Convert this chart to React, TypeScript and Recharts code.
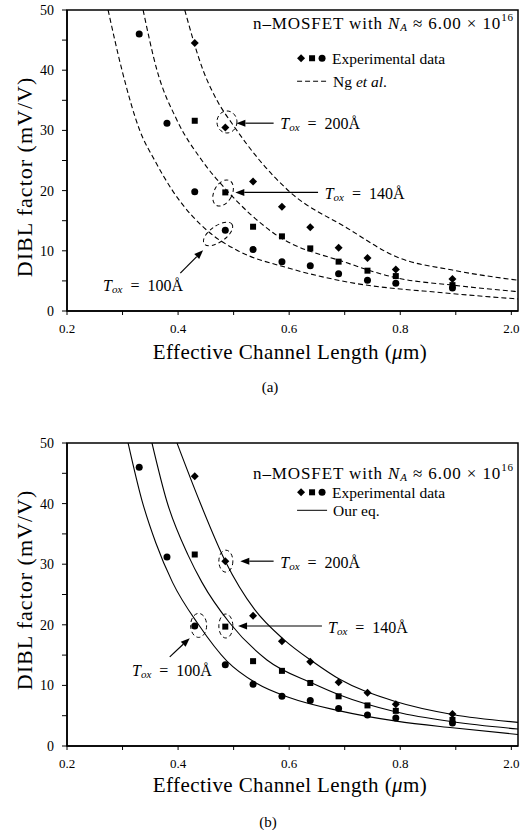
import { ComposedChart, Line, Scatter, XAxis, YAxis, ReferenceArea, ReferenceDot, ReferenceLine } from "recharts";

const FONT = "'Liberation Serif', 'Times New Roman', serif";

// measured points (same experiment in both panels)
const lengths = [0.33, 0.38, 0.43, 0.485, 0.535, 0.587, 0.638, 0.689, 0.741, 0.792, 0.894];
const dibl100 = [46, 31.2, 19.8, 13.4, 10.2, 8.2, 7.5, 6.2, 5.1, 4.6, 3.8];
const dibl140 = [null, null, 31.6, 19.7, 14, 12.4, 10.4, 8.2, 6.7, 5.8, 4.3];
const dibl200 = [null, null, 44.5, 30.5, 21.5, 17.3, 13.9, 10.5, 8.8, 6.9, 5.3];

// Ng et al. model curves (panel a)
const ngX100 = [0.274, 0.299, 0.331, 0.358, 0.39, 0.457, 0.506, 0.6, 0.7, 0.88, 1.012];
const ngY100 = [50, 40, 30, 25, 20, 13, 10.1, 7.1, 4.9, 3.0, 2.0];
const ngX140 = [0.337, 0.362, 0.398, 0.443, 0.488, 0.571, 0.704, 0.793, 0.894, 1.012];
const ngY140 = [50, 40, 31.7, 25, 20, 13, 8.0, 5.5, 4.3, 3.2];
const ngX200 = [0.412, 0.445, 0.47, 0.499, 0.547, 0.601, 0.704, 0.793, 0.894, 1.012];
const ngY200 = [50, 40, 35, 30.9, 25, 19.8, 13.8, 9.0, 6.8, 5.1];

// "Our eq." curves (panel b)
const eqX100 = [0.31, 0.335, 0.36, 0.39, 0.437, 0.488, 0.542, 0.6, 0.691, 0.793, 0.894, 1.012];
const eqY100 = [50, 40.5, 33.5, 27.0, 20.0, 14.0, 10.3, 8.0, 5.8, 4.1, 3.0, 1.9];
const eqX140 = [0.353, 0.38, 0.418, 0.443, 0.493, 0.56, 0.643, 0.691, 0.793, 0.894, 1.012];
const eqY140 = [50, 40.3, 31.5, 27.0, 20.3, 14.2, 10.3, 8.4, 5.6, 4.0, 2.8];
const eqX200 = [0.398, 0.439, 0.485, 0.538, 0.59, 0.643, 0.691, 0.793, 0.894, 1.012];
const eqY200 = [50, 40.3, 30.5, 22.5, 17.6, 13.9, 11.0, 7.3, 5.2, 3.9];

const xTicks = [0.2, 0.3, 0.4, 0.5, 0.6, 0.7, 0.8, 0.9, 1.0];
const xTickLabels = ["0.2", "", "0.4", "", "0.6", "", "0.8", "", "2.0"];
const yTicks = [0, 5, 10, 15, 20, 25, 30, 35, 40, 45, 50];
const yTickLabels = ["0", "", "10", "", "20", "", "30", "", "40", "", "50"];

const toPoints = (xs: number[], ys: (number | null)[]) =>
  xs.map((x, i) => ({ x, y: ys[i] })).filter((p) => p.y != null);

const Circle = (p: any) => <circle cx={p.cx} cy={p.cy} r={3.5} fill="#000" />;
const Square = (p: any) => <rect x={p.cx - 3} y={p.cy - 3} width={6} height={6} fill="#000" />;
const Diamond = (p: any) => (
  <polygon
    points={`${p.cx},${p.cy - 4} ${p.cx + 4},${p.cy} ${p.cx},${p.cy + 4} ${p.cx - 4},${p.cy}`}
    fill="#000"
  />
);

const toxLabel = (value: string) => (p: any) => (
  <text x={p.cx} y={p.cy} dominantBaseline="central" fontFamily={FONT} fontSize={16} fill="#000">
    <tspan fontStyle="italic">T</tspan>
    <tspan fontStyle="italic" fontSize={11} dy={4}>ox</tspan>
    <tspan dy={-4}>{"\u00a0\u00a0=\u00a0\u00a0" + value + "Å"}</tspan>
  </text>
);

const ellipse = (rx: number, ry: number, rot: number) => (p: any) => (
  <ellipse
    cx={p.cx}
    cy={p.cy}
    rx={rx}
    ry={ry}
    transform={`rotate(${rot} ${p.cx} ${p.cy})`}
    fill="none"
    stroke="#000"
    strokeWidth={1}
    strokeDasharray="4 3"
  />
);

const Arrow = (p: any) => {
  const { x1, y1, x2, y2 } = p;
  const a = Math.atan2(y2 - y1, x2 - x1);
  const len = 9;
  const w = 3.5;
  const bx = x2 - len * Math.cos(a);
  const by = y2 - len * Math.sin(a);
  const px = -Math.sin(a) * w;
  const py = Math.cos(a) * w;
  return (
    <g>
      <line x1={x1} y1={y1} x2={bx} y2={by} stroke="#000" strokeWidth={1.2} />
      <polygon points={`${x2},${y2} ${bx + px},${by + py} ${bx - px},${by - py}`} fill="#000" />
    </g>
  );
};

const legendShape = (gap1: number, gap2: number, dashed: boolean, lineText: any) => (p: any) => {
  const x = p.cx;
  const y = p.cy;
  return (
    <g fontFamily={FONT} fill="#000">
      <text x={x} y={y} dominantBaseline="central" fontSize={17} textLength={260} lengthAdjust="spacing">
        n–MOSFET with <tspan fontStyle="italic">N</tspan>
        <tspan fontStyle="italic" fontSize={11} dy={4}>A</tspan>
        <tspan dy={-4}> ≈ 6.00 × 10</tspan>
        <tspan fontSize={11} dy={-6}>16</tspan>
      </text>
      <Diamond cx={x + 48} cy={y + gap1} />
      <Square cx={x + 59} cy={y + gap1} />
      <Circle cx={x + 69} cy={y + gap1} />
      <text x={x + 79} y={y + gap1} dominantBaseline="central" fontSize={15.5}>
        Experimental data
      </text>
      <line
        x1={x + 44}
        y1={y + gap2}
        x2={x + 74}
        y2={y + gap2}
        stroke="#000"
        strokeWidth={1}
        strokeDasharray={dashed ? "5 3" : undefined}
      />
      <text x={x + 80} y={y + gap2} dominantBaseline="central" fontSize={15.5}>
        {lineText}
      </text>
    </g>
  );
};

const tickStyle = { fontSize: 13, fill: "#000", fontFamily: FONT };

function Panel(props: any) {
  const { curves, dashed, height, marginTop, marginBottom, legend, notes } = props;
  return (
    <ComposedChart
      width={531}
      height={height}
      margin={{ top: marginTop, right: 13, bottom: marginBottom, left: 22 }}
    >
      <XAxis
        type="number"
        dataKey="x"
        domain={[0.2, 1.012]}
        ticks={xTicks}
        interval={0}
        allowDataOverflow
        tickFormatter={(v: number) => xTickLabels[xTicks.indexOf(v)] ?? ""}
        tick={tickStyle}
        tickSize={4}
        tickMargin={9}
        axisLine={{ stroke: "#000", strokeWidth: 1.5 }}
        tickLine={{ stroke: "#000" }}
        height={30}
      />
      <YAxis
        type="number"
        dataKey="y"
        domain={[0, 50]}
        ticks={yTicks}
        interval={0}
        allowDataOverflow
        tickFormatter={(v: number) => yTickLabels[yTicks.indexOf(v)] ?? ""}
        tick={{ ...tickStyle, fontSize: 14 }}
        tickSize={5}
        tickMargin={8}
        axisLine={{ stroke: "#000", strokeWidth: 1.5 }}
        tickLine={{ stroke: "#000" }}
        width={45}
      />
      <ReferenceArea x1={0.2} x2={1.012} y1={0} y2={50} fill="none" stroke="#000" strokeWidth={1.5} />
      {curves.map((c: any, i: number) => (
        <Line
          key={i}
          data={toPoints(c.x, c.y)}
          dataKey="y"
          type="monotone"
          stroke="#000"
          strokeWidth={1.1}
          strokeDasharray={dashed ? "5 3" : undefined}
          dot={false}
          activeDot={false}
          isAnimationActive={false}
        />
      ))}
      <Scatter data={toPoints(lengths, dibl100)} shape={Circle} isAnimationActive={false} />
      <Scatter data={toPoints(lengths, dibl140)} shape={Square} isAnimationActive={false} />
      <Scatter data={toPoints(lengths, dibl200)} shape={Diamond} isAnimationActive={false} />
      {notes.ellipses.map((e: any, i: number) => (
        <ReferenceDot key={"e" + i} x={e.x} y={e.y} shape={ellipse(e.rx, e.ry, e.rot)} />
      ))}
      {notes.arrows.map((a: any, i: number) => (
        <ReferenceLine key={"a" + i} segment={a} shape={Arrow} />
      ))}
      {notes.labels.map((l: any, i: number) => (
        <ReferenceDot key={"l" + i} x={l.x} y={l.y} shape={toxLabel(l.text)} />
      ))}
      <ReferenceDot
        x={legend.x}
        y={legend.y}
        shape={legendShape(legend.gap1, legend.gap2, dashed, legend.lineText)}
      />
    </ComposedChart>
  );
}

const notesA = {
  ellipses: [
    { x: 0.488, y: 31.4, rx: 10, ry: 11, rot: 0 },
    { x: 0.481, y: 19.6, rx: 9, ry: 14, rot: 28 },
    { x: 0.472, y: 12.8, rx: 17, ry: 8, rot: -35 },
  ],
  arrows: [
    [{ x: 0.572, y: 31.2 }, { x: 0.505, y: 31.2 }],
    [{ x: 0.652, y: 19.7 }, { x: 0.503, y: 19.7 }],
    [{ x: 0.404, y: 6.3 }, { x: 0.445, y: 10.1 }],
  ],
  labels: [
    { x: 0.584, y: 31.2, text: "200" },
    { x: 0.664, y: 19.6, text: "140" },
    { x: 0.265, y: 4.3, text: "100" },
  ],
};

const notesB = {
  ellipses: [
    { x: 0.486, y: 30.5, rx: 7, ry: 11, rot: 0 },
    { x: 0.486, y: 19.8, rx: 7, ry: 12, rot: 0 },
    { x: 0.437, y: 19.9, rx: 8, ry: 12, rot: 0 },
  ],
  arrows: [
    [{ x: 0.572, y: 30.5 }, { x: 0.512, y: 30.5 }],
    [{ x: 0.659, y: 19.8 }, { x: 0.508, y: 19.8 }],
    [{ x: 0.385, y: 14.7 }, { x: 0.421, y: 17.8 }],
  ],
  labels: [
    { x: 0.584, y: 30.4, text: "200" },
    { x: 0.67, y: 19.6, text: "140" },
    { x: 0.317, y: 12.5, text: "100" },
  ],
};

const textAt = (left: number, top: number, size: number, extra: any = {}) => ({
  position: "absolute" as const,
  left,
  top,
  transform: "translate(-50%, -50%)",
  fontFamily: FONT,
  fontSize: size,
  whiteSpace: "nowrap" as const,
  color: "#000",
  lineHeight: 1,
  ...extra,
});

export default function App() {
  return (
    <div style={{ position: "absolute", left: 0, top: 0, width: 531, height: 830, background: "#fff" }}>
      <div style={{ position: "absolute", left: 0, top: 0 }}>
        <Panel
          curves={[
            { x: ngX100, y: ngY100 },
            { x: ngX140, y: ngY140 },
            { x: ngX200, y: ngY200 },
          ]}
          dashed
          height={400}
          marginTop={10}
          marginBottom={59}
          legend={{
            x: 0.535,
            y: 47.8,
            gap1: 35,
            gap2: 58,
            lineText: (
              <>
                Ng <tspan fontStyle="italic">et al</tspan>.
              </>
            ),
          }}
          notes={notesA}
        />
      </div>
      <div style={{ position: "absolute", left: 0, top: 425 }}>
        <Panel
          curves={[
            { x: eqX100, y: eqY100 },
            { x: eqX140, y: eqY140 },
            { x: eqX200, y: eqY200 },
          ]}
          dashed={false}
          height={405}
          marginTop={18}
          marginBottom={54}
          legend={{ x: 0.535, y: 45, gap1: 19, gap2: 37, lineText: "Our eq." }}
          notes={notesB}
        />
      </div>

      <div style={textAt(25, 177, 22, { transform: "translate(-50%, -50%) rotate(-90deg)", letterSpacing: 1 })}>
        DIBL factor (mV/V)
      </div>
      <div style={textAt(290, 352, 21, { letterSpacing: 0.4 })}>
        Effective Channel Length (<i>μ</i>m)
      </div>
      <div style={textAt(270, 387, 15)}>(a)</div>

      <div style={textAt(25, 590, 22, { transform: "translate(-50%, -50%) rotate(-90deg)", letterSpacing: 1 })}>
        DIBL factor (mV/V)
      </div>
      <div style={textAt(290, 785, 21, { letterSpacing: 0.4 })}>
        Effective Channel Length (<i>μ</i>m)
      </div>
      <div style={textAt(268, 822, 15)}>(b)</div>
    </div>
  );
}
